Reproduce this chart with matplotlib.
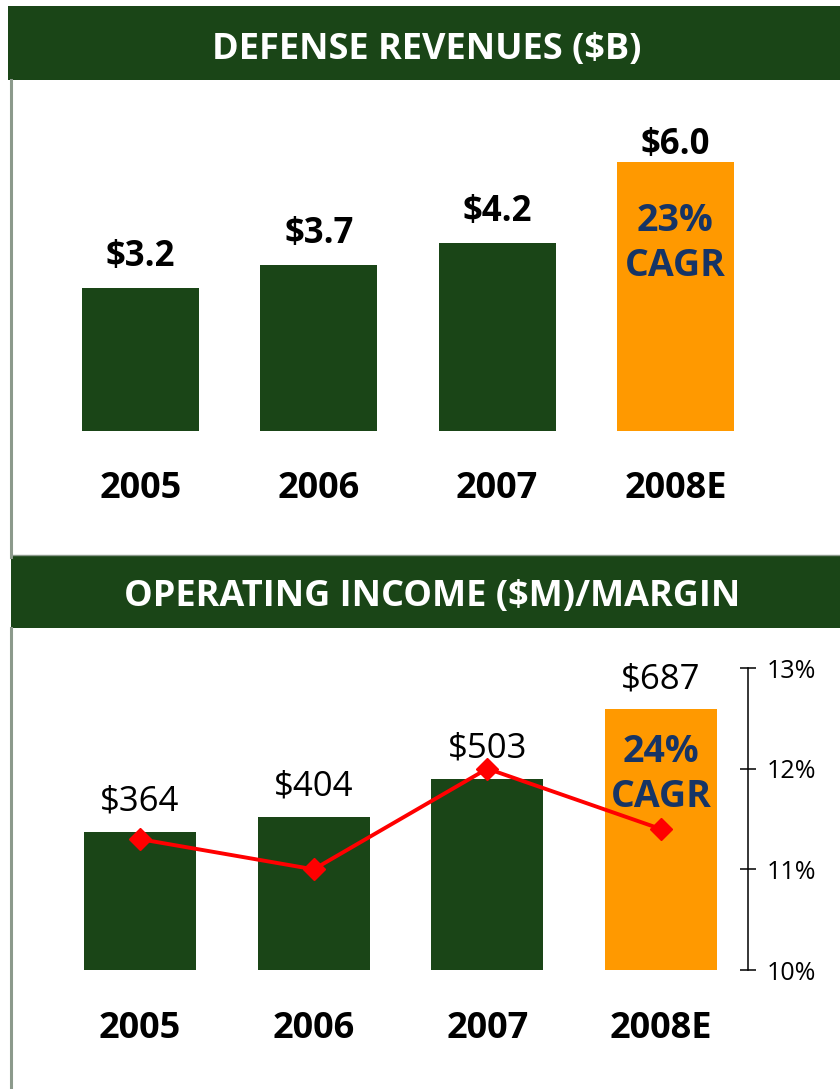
import matplotlib
matplotlib.use("Agg")
import matplotlib.pyplot as plt
from matplotlib.patches import Rectangle
from matplotlib.lines import Line2D
from matplotlib.ticker import FixedLocator

plt.rcParams['font.family'] = ['Open Sans', 'DejaVu Sans']

# ---------------- data ----------------
years = ["2005", "2006", "2007", "2008E"]
revenues = [3.2, 3.7, 4.2, 6.0]
revenue_labels = ["$3.2", "$3.7", "$4.2", "$6.0"]
revenue_cagr = "23%\nCAGR"
op_income = [364, 404, 503, 687]
op_income_labels = ["$364", "$404", "$503", "$687"]
op_margin = [11.3, 11.0, 12.0, 11.4]
margin_ticks = [10, 11, 12, 13]
margin_tick_labels = ["10%", "11%", "12%", "13%"]
income_cagr = "24%\nCAGR"
title_top = "DEFENSE REVENUES ($B)"
title_bottom = "OPERATING INCOME ($M)/MARGIN"

# ---------------- style ----------------
GREEN = "#1a4517"
ORANGE = "#ff9900"
NAVY = "#163465"
GRAY = "#8c9a8c"
RED = "#ff0000"
bar_colors = [GREEN, GREEN, GREEN, ORANGE]

W, H = 840, 1089
fig = plt.figure(figsize=(W / 100, H / 100), dpi=100)


def rect(x0, y0, x1, y1):
    return [x0 / W, 1 - y1 / H, (x1 - x0) / W, (y1 - y0) / H]


def fx(x):
    return x / W


def fy(y):
    return 1 - y / H


# header bands
fig.add_artist(Rectangle((fx(8), fy(80)), fx(840) - fx(8), fy(6) - fy(80),
                         transform=fig.transFigure, color=GREEN, lw=0))
fig.add_artist(Rectangle((fx(11), fy(628)), fx(840) - fx(11), fy(556) - fy(628),
                         transform=fig.transFigure, color=GREEN, lw=0))
# gray frame lines
fig.add_artist(Line2D([fx(11), fx(11)], [fy(80), fy(557)], transform=fig.transFigure,
                      color=GRAY, lw=2.2))
fig.add_artist(Line2D([fx(11), fx(11)], [fy(628), fy(1089)], transform=fig.transFigure,
                      color=GRAY, lw=2.2))
fig.add_artist(Line2D([fx(11), fx(840)], [fy(555), fy(555)], transform=fig.transFigure,
                      color=GRAY, lw=1.0))

fig.text(fx(427), fy(59), title_top, color="white", fontsize=26, fontweight="bold",
         ha="center", va="baseline")
fig.text(fx(432), fy(606), title_bottom, color="white", fontsize=26, fontweight="bold",
         ha="center", va="baseline")

x = list(range(len(years)))

# ---------------- top chart ----------------
ax1 = fig.add_axes(rect(51.5, 431 - 7 * 44.8, 764.5, 431))
ax1.bar(x, revenues, width=0.657, color=bar_colors)
ax1.set_xlim(-0.5, 3.5)
ax1.set_ylim(0, 7)
ax1.axis("off")
top_label_offsets = [22, 22, 22, 8]
for i, (v, lab) in enumerate(zip(revenues, revenue_labels)):
    ax1.annotate(lab, xy=(i, v), xytext=(0, top_label_offsets[i]), textcoords="offset pixels",
                 ha="center", va="baseline", fontsize=25, fontweight="bold", color="black")
    ax1.annotate(years[i], xy=(i, 0), xytext=(0, -67), textcoords="offset pixels",
                 ha="center", va="baseline", fontsize=26, fontweight="bold", color="black",
                 annotation_clip=False)
c1, c2 = revenue_cagr.split("\n")
ax1.annotate(c1, xy=(3, revenues[3]), xytext=(0, -69), textcoords="offset pixels",
             ha="center", va="baseline", fontsize=27, fontweight="bold", color=NAVY)
ax1.annotate(c2, xy=(3, revenues[3]), xytext=(0, -114), textcoords="offset pixels",
             ha="center", va="baseline", fontsize=27, fontweight="bold", color=NAVY)

# ---------------- bottom chart ----------------
ax2 = fig.add_axes(rect(53.2, 668, 747.8, 970))
ax2.bar(x, op_income, width=0.645, color=bar_colors)
ax2.set_xlim(-0.5, 3.5)
ax2.set_ylim(0, 795)
for s in ["top", "left", "bottom", "right"]:
    ax2.spines[s].set_visible(False)
ax2.set_xticks([])
ax2.set_yticks([])
ax2.patch.set_alpha(0)
for i, (v, lab) in enumerate(zip(op_income, op_income_labels)):
    ax2.annotate(lab, xy=(i, v), xytext=(0, 21), textcoords="offset pixels",
                 ha="center", va="baseline", fontsize=25, color="black")
    ax2.annotate(years[i], xy=(i, 0), xytext=(0, -68), textcoords="offset pixels",
                 ha="center", va="baseline", fontsize=26, fontweight="bold", color="black",
                 annotation_clip=False)
c1, c2 = income_cagr.split("\n")
ax2.annotate(c1, xy=(3, op_income[3]), xytext=(0, -53), textcoords="offset pixels",
             ha="center", va="baseline", fontsize=27, fontweight="bold", color=NAVY)
ax2.annotate(c2, xy=(3, op_income[3]), xytext=(0, -98), textcoords="offset pixels",
             ha="center", va="baseline", fontsize=27, fontweight="bold", color=NAVY)

ax3 = ax2.twinx()
ax3.set_ylim(10, 13)
ax3.plot(x, op_margin, color=RED, lw=2.8, marker="D", markersize=11, zorder=5)
for s in ["top", "left", "bottom"]:
    ax3.spines[s].set_visible(False)
ax3.spines["right"].set_color("black")
ax3.spines["right"].set_linewidth(1.1)
ax3.yaxis.set_major_locator(FixedLocator(margin_ticks))
ax3.set_yticklabels(margin_tick_labels)
ax3.tick_params(axis="y", direction="inout", length=11.5, width=1.1, pad=8,
                labelsize=18, colors="black")
ax3.set_xticks([])

fig.savefig("out.png", dpi=100)
